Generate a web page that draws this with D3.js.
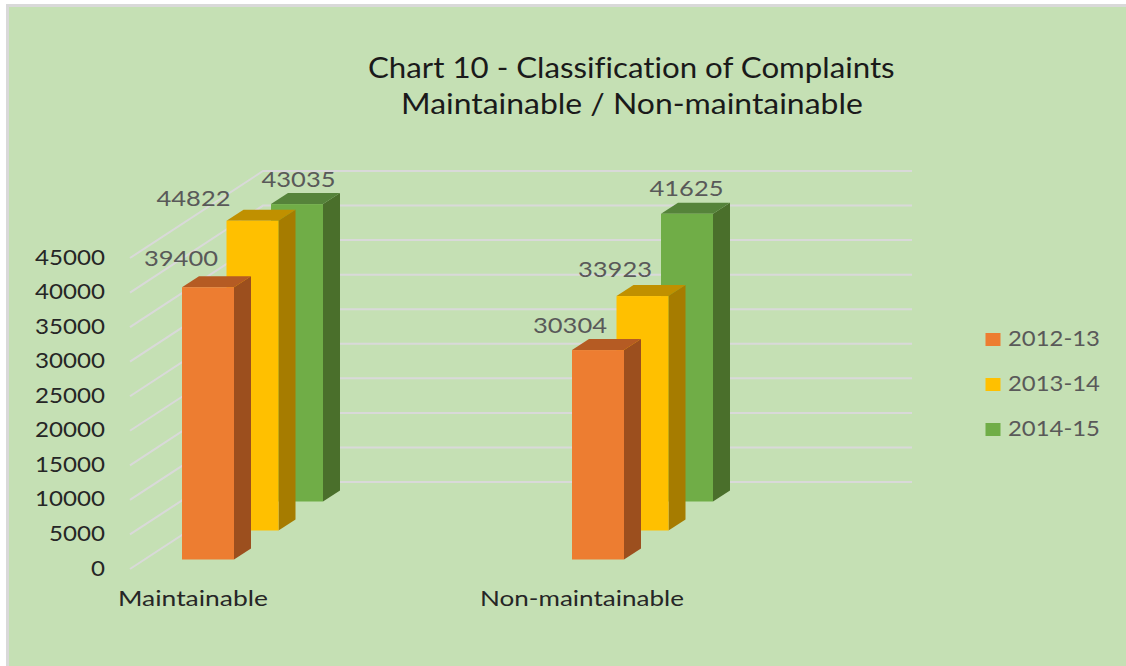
<!DOCTYPE html>
<html><head><meta charset="utf-8">
<script src="https://cdn.jsdelivr.net/npm/d3@7"></script>
<style>html,body{margin:0;padding:0;background:#fff}svg{display:block}text{font-family:Lato,"Open Sans",sans-serif;font-variant-ligatures:none}</style>
</head><body><svg id="c" width="1126" height="666"></svg>
<script>
const categories=["Maintainable","Non-maintainable"];
const seriesNames=["2012-13","2013-14","2014-15"];
const values2012=[39400,30304];
const values2013=[44822,33923];
const values2014=[43035,41625];
const ticks=[0,5000,10000,15000,20000,25000,30000,35000,40000,45000];
const titleLines=["Chart 10 - Classification of Complaints","Maintainable / Non-maintainable"];
const series=[values2012,values2013,values2014];
const front=["#ED7D31","#FFC000","#70AD47"],side=["#9C4F1E","#A67C00","#4A6F2B"],top_=["#B55B23","#C09000","#55833A"];

const svg=d3.select("#c");
svg.append("rect").attr("x",6).attr("y",4).attr("width",1120).attr("height",662).attr("fill","#D9D9D9");
svg.append("rect").attr("x",9).attr("y",7).attr("width",1117).attr("height",659).attr("fill","#C5E0B4");

// Stretched text: the reference's lettering is a humanist sans widened horizontally.
function put(sel,x,y,width,anchor){
  sel.attr("text-anchor","start");
  const n=sel.node(),w=n.getComputedTextLength(),sx=width/w;
  const left=anchor==="middle"?x-width/2:anchor==="end"?x-width:x;
  sel.attr("transform",`translate(${left},${y}) scale(${sx},1)`);
}

const h=d3.scaleLinear().domain([0,45000]).range([0,311]);
const wallBase=569,wallX0=130,wallX1=263,wallX2=912,wallDy=87;
const catX=d3.scalePoint().domain(categories).range([182,572]);
const serDx=d3.scaleLinear().domain([0,2]).range([0,89]);
const serDy=d3.scaleLinear().domain([0,2]).range([0,58]);
const barW=52,dx=17,dy=11,base=559.5;

const grid=svg.append("g").attr("fill","none").attr("stroke","#D9D9D9").attr("stroke-width",2);
ticks.forEach(t=>{
  const y=wallBase-h(t);
  grid.append("path").attr("d",d3.line()([[wallX0,y],[wallX1,y-wallDy],[wallX2,y-wallDy]]));
});

ticks.forEach(t=>{
  const s=String(t);
  const sel=svg.append("text").attr("font-size",22).attr("fill","#262626").text(s);
  put(sel,105,wallBase-h(t)+6.5,14*s.length,"end");
});

categories.forEach((c,ci)=>{
  [2,1,0].forEach(s=>{
    const v=series[s][ci];
    const x=catX(c)+serDx(s), b=base-serDy(s), t=b-h(v);
    const g=svg.append("g");
    g.append("path").attr("fill",side[s]).attr("d",d3.line()([[x+barW,t],[x+barW+dx,t-dy],[x+barW+dx,b-dy],[x+barW,b]])+"Z");
    g.append("path").attr("fill",top_[s]).attr("d",d3.line()([[x,t],[x+dx,t-dy],[x+barW+dx,t-dy],[x+barW,t]])+"Z");
    g.append("rect").attr("x",x).attr("y",t).attr("width",barW).attr("height",b-t).attr("fill",front[s]);
  });
});

// label offsets from each bar's front top-left corner: [series][category] = [dx, dy]
const labelOffsets=[[[-1,-21],[-2,-17]],[[-33,-15],[-1.5,-19.5]],[[27.5,-17],[25.5,-18]]];
categories.forEach((c,ci)=>{
  series.forEach((vals,s)=>{
    const x=catX(c)+serDx(s), b=base-serDy(s), t=b-h(vals[ci]);
    const o=labelOffsets[s][ci];
    const sel=svg.append("text").attr("font-size",22).attr("fill","#595959").text(vals[ci]);
    put(sel,x+o[0],t+o[1],74,"middle");
  });
});

[[118,150],[480,204]].forEach((p,i)=>{
  const sel=svg.append("text").attr("font-size",22).attr("fill","#262626").text(categories[i]);
  put(sel,p[0],605.5,p[1],"start");
});

[[368,527,78],[401,462,114]].forEach((p,i)=>{
  const sel=svg.append("text").attr("font-size",28).attr("fill","#1a1a1a").text(titleLines[i]);
  put(sel,p[0],p[2],p[1],"start");
});

const ly=d3.scalePoint().domain(seriesNames).range([339.5,429.5]);
seriesNames.forEach((d,i)=>{
  svg.append("rect").attr("x",985.5).attr("y",ly(d)-6.5).attr("width",15).attr("height",13).attr("fill",front[i]);
  const sel=svg.append("text").attr("font-size",22).attr("fill","#595959").text(d);
  put(sel,1008,ly(d)+6.5,92,"start");
});
</script></body></html>
